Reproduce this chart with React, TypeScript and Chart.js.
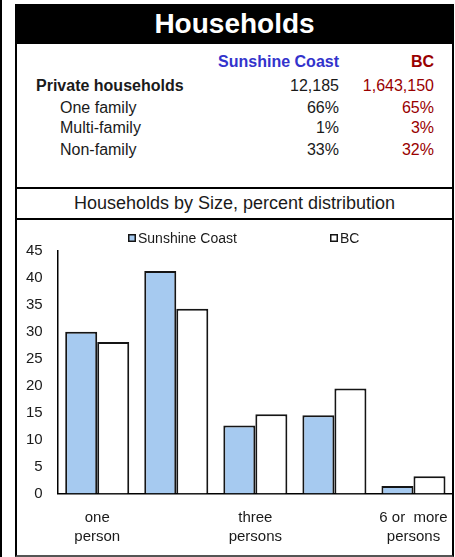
import React, { useEffect, useRef } from "react";
import { Chart, registerables } from "chart.js";

Chart.register(...registerables);

const categories: string[][] = [
  ["one", "person"],
  ["two", "persons"],
  ["three", "persons"],
  ["four to five", "persons"],
  ["6 or  more", "persons"],
];
const shownLabelIdx = [0, 2, 4];
const seriesNames = ["Sunshine Coast", "BC"];
const sunshineCoast = [30.0, 41.3, 12.6, 14.5, 1.4];
const bc = [28.1, 34.3, 14.7, 19.5, 3.2];
const yTicksMax = 45;
const yStep = 5;

const tableHeaders = ["Sunshine Coast", "BC"];
const tableRows: { label: string; sc: string; bc: string; bold: boolean }[] = [
  { label: "Private households", sc: "12,185", bc: "1,643,150", bold: true },
  { label: "One family", sc: "66%", bc: "65%", bold: false },
  { label: "Multi-family", sc: "1%", bc: "3%", bold: false },
  { label: "Non-family", sc: "33%", bc: "32%", bold: false },
];

const FONT = '"Liberation Sans", Arial, Helvetica, sans-serif';
const BLUE_FILL = "#a6caf0";
const EDGE = "#151515";
const RED = "#990000";
const BLUEHDR = "#3333cc";

const customLegend = {
  id: "customLegend",
  afterDraw(chart: any) {
    const ctx = chart.ctx;
    const xs = [111, 313];
    ctx.save();
    ctx.font = `14px ${FONT}`;
    ctx.textBaseline = "middle";
    ctx.textAlign = "left";
    chart.data.datasets.forEach((ds: any, i: number) => {
      const x = xs[i];
      const y = 12;
      ctx.fillStyle = ds.backgroundColor;
      ctx.fillRect(x, y, 8, 8);
      ctx.strokeStyle = EDGE;
      ctx.lineWidth = 1.5;
      ctx.strokeRect(x + 0.75, y + 0.75, 6.5, 6.5);
      ctx.fillStyle = "#1a1a1a";
      ctx.fillText(ds.label, x + 10, y + 5);
    });
    ctx.restore();
  },
};

function BarChart() {
  const ref = useRef<HTMLCanvasElement | null>(null);
  useEffect(() => {
    if (!ref.current) return;
    const chart = new Chart(ref.current, {
      type: "bar",
      data: {
        labels: categories,
        datasets: [
          {
            label: seriesNames[0],
            data: sunshineCoast,
            backgroundColor: BLUE_FILL,
            borderColor: EDGE,
            borderWidth: 2,
            categoryPercentage: 0.81,
            barPercentage: 1.0,
          },
          {
            label: seriesNames[1],
            data: bc,
            backgroundColor: "#ffffff",
            borderColor: EDGE,
            borderWidth: 2,
            categoryPercentage: 0.81,
            barPercentage: 1.0,
          },
        ],
      },
      options: {
        animation: false,
        responsive: false,
        maintainAspectRatio: false,
        layout: { padding: { top: 29, left: 9, right: 0, bottom: 8 } },
        plugins: {
          legend: { display: false },
          tooltip: { enabled: false },
          title: { display: false },
        },
        scales: {
          x: {
            grid: { display: false, drawTicks: true, tickLength: 15 },
            border: { display: true, color: "#000", width: 1.5 },
            ticks: {
              color: "#1a1a1a",
              font: { family: FONT, size: 15, lineHeight: 1.25 },
              padding: 0,
              maxRotation: 0,
              autoSkip: false,
              callback: (_v: any, i: number) =>
                shownLabelIdx.includes(i) ? categories[i] : "",
            },
          },
          y: {
            min: 0,
            max: yTicksMax,
            grid: { display: false, drawTicks: true, tickLength: 15 },
            border: { display: true, color: "#000", width: 1.5 },
            ticks: {
              stepSize: yStep,
              color: "#1a1a1a",
              font: { family: FONT, size: 15 },
              padding: 0,
            },
          },
        },
      },
      plugins: [customLegend],
    });
    return () => chart.destroy();
  }, []);
  return (
    <canvas
      ref={ref}
      width={436}
      height={332}
      style={{ position: "absolute", left: 17, top: 222, width: 436, height: 332 }}
    />
  );
}

export default function App() {
  const abs: React.CSSProperties = { position: "absolute" };
  const rowY = [86, 108, 128, 150];
  return (
    <div
      style={{
        position: "fixed",
        left: 0,
        top: 0,
        width: 455,
        height: 557,
        background: "#fff",
        fontFamily: FONT,
        color: "#1a1a1a",
        overflow: "hidden",
      }}
    >
      <div style={{ ...abs, left: 0, top: 0, width: 2, height: 557, background: "#000" }} />
      <div
        style={{
          ...abs,
          left: 15,
          top: 4,
          width: 439,
          height: 40,
          background: "#000",
          color: "#fff",
          fontWeight: "bold",
          fontSize: 28,
          lineHeight: "40px",
          textAlign: "center",
        }}
      >
        Households
      </div>
      <div
        style={{
          ...abs,
          left: 15,
          top: 44,
          width: 439,
          height: 145,
          boxSizing: "border-box",
          borderLeft: "2px solid #000",
          borderRight: "2px solid #000",
          borderBottom: "2px solid #000",
        }}
      />
      <div
        style={{
          ...abs,
          right: 455 - 339,
          top: 52,
          fontSize: 16,
          lineHeight: "20px",
          fontWeight: "bold",
          color: BLUEHDR,
          whiteSpace: "nowrap",
        }}
      >
        {tableHeaders[0]}
      </div>
      <div
        style={{
          ...abs,
          right: 455 - 434,
          top: 52,
          fontSize: 16,
          lineHeight: "20px",
          fontWeight: "bold",
          color: RED,
          whiteSpace: "nowrap",
        }}
      >
        {tableHeaders[1]}
      </div>
      {tableRows.map((r, i) => (
        <React.Fragment key={r.label}>
          <div
            style={{
              ...abs,
              left: r.bold ? 36 : 60,
              top: rowY[i] - 10,
              fontSize: 16,
              lineHeight: "20px",
              fontWeight: r.bold ? "bold" : "normal",
              whiteSpace: "nowrap",
            }}
          >
            {r.label}
          </div>
          <div
            style={{
              ...abs,
              right: 455 - 339,
              top: rowY[i] - 10,
              fontSize: 16,
              lineHeight: "20px",
              whiteSpace: "nowrap",
            }}
          >
            {r.sc}
          </div>
          <div
            style={{
              ...abs,
              right: 455 - 434,
              top: rowY[i] - 10,
              fontSize: 16,
              lineHeight: "20px",
              color: RED,
              whiteSpace: "nowrap",
            }}
          >
            {r.bc}
          </div>
        </React.Fragment>
      ))}
      <div
        style={{
          ...abs,
          left: 15,
          top: 189,
          width: 439,
          height: 31,
          boxSizing: "border-box",
          borderLeft: "2px solid #000",
          borderRight: "2px solid #000",
          borderBottom: "2px solid #000",
          fontSize: 18,
          lineHeight: "28px",
          textAlign: "center",
          whiteSpace: "nowrap",
        }}
      >
        Households by Size, percent distribution
      </div>
      <div
        style={{
          ...abs,
          left: 15,
          top: 220,
          width: 439,
          height: 337,
          boxSizing: "border-box",
          borderLeft: "2px solid #000",
          borderRight: "2px solid #000",
          borderBottom: "2px solid #555",
        }}
      />
      <BarChart />
    </div>
  );
}
